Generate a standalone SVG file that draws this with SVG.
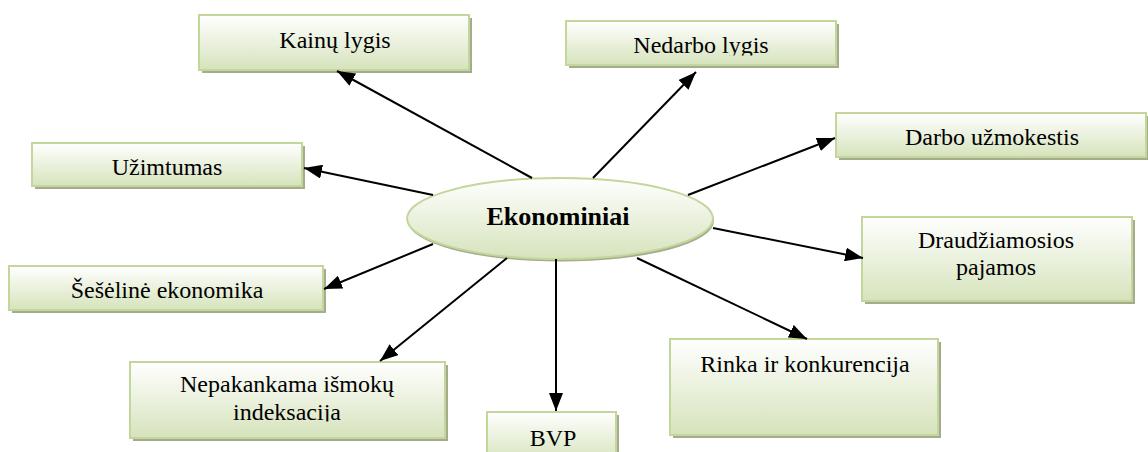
<svg xmlns="http://www.w3.org/2000/svg" width="1148" height="452" viewBox="0 0 1148 452">
<defs>
<linearGradient id="g" x1="0" y1="0" x2="0" y2="1">
<stop offset="0" stop-color="#ffffff"/>
<stop offset="1" stop-color="#d6e3bc"/>
</linearGradient>
<marker id="ah" markerUnits="userSpaceOnUse" markerWidth="18" markerHeight="14" refX="18" refY="7" orient="auto" viewBox="0 0 18 14">
<path d="M0,0 L18,7 L0,14 z" fill="#000"/>
</marker>
<clipPath id="c1"><rect x="560" y="0" width="300" height="55.5"/></clipPath>
<clipPath id="c2"><rect x="120" y="340" width="340" height="81.5"/></clipPath>
</defs>
<style>
.sh{fill:#a4ac8d}
.bx{fill:url(#g);stroke:#c3d69b;stroke-width:2}
.t{font-family:'Liberation Serif','Times New Roman',serif;font-size:24px;fill:#000;text-anchor:middle}
.tb{font-family:'Liberation Serif','Times New Roman',serif;font-size:26px;font-weight:bold;fill:#000;text-anchor:middle}
.ln{stroke:#000;stroke-width:2;fill:none;marker-end:url(#ah)}
</style>
<rect width="1148" height="452" fill="#fff"/>

<g id="kainu">
<rect class="sh" x="202" y="18" width="270" height="55"/>
<rect class="bx" x="199" y="15" width="270" height="55"/>
<text class="t" x="335" y="48">Kainų lygis</text>
</g>
<g id="nedarbo">
<rect class="sh" x="569" y="24" width="270" height="44"/>
<rect class="bx" x="566" y="21" width="270" height="44"/>
<text class="t" x="701" y="53" clip-path="url(#c1)">Nedarbo lygis</text>
</g>
<g id="darbo">
<rect class="sh" x="839" y="116" width="310" height="44"/>
<rect class="bx" x="836" y="113" width="310" height="44"/>
<text class="t" x="992" y="145">Darbo užmokestis</text>
</g>
<g id="uzimtumas">
<rect class="sh" x="35" y="146" width="270" height="43"/>
<rect class="bx" x="32" y="143" width="270" height="43"/>
<text class="t" x="167" y="175">Užimtumas</text>
</g>
<g id="seseline">
<rect class="sh" x="12" y="269" width="314" height="44"/>
<rect class="bx" x="9" y="266" width="314" height="44"/>
<text class="t" x="167" y="298">Šešėlinė ekonomika</text>
</g>
<g id="draudziamosios">
<rect class="sh" x="865" y="220" width="270" height="84"/>
<rect class="bx" x="862" y="217" width="270" height="84"/>
<text class="t" x="996" y="248">Draudžiamosios</text>
<text class="t" x="996" y="275">pajamos</text>
</g>
<g id="nepakankama">
<rect class="sh" x="133" y="365" width="315" height="76"/>
<rect class="bx" x="130" y="362" width="315" height="76"/>
<g clip-path="url(#c2)">
<text class="t" x="287" y="392">Nepakankama išmokų</text>
<text class="t" x="287" y="420">indeksacija</text>
</g>
</g>
<g id="bvp">
<rect class="sh" x="490" y="415" width="129" height="50"/>
<rect class="bx" x="487" y="412" width="129" height="50"/>
<text class="t" x="553" y="446">BVP</text>
</g>
<g id="rinka">
<rect class="sh" x="673" y="342" width="268" height="96"/>
<rect class="bx" x="670" y="339" width="268" height="96"/>
<text class="t" x="805" y="372">Rinka ir konkurencija</text>
</g>
<g id="ekonominiai">
<ellipse cx="561" cy="221" rx="153" ry="40.5" fill="#a4ac8d"/>
<ellipse cx="560" cy="218.5" rx="153" ry="40.5" fill="url(#g)" stroke="#c3d69b" stroke-width="2"/>
<text class="tb" x="558" y="225">Ekonominiai</text>
</g>

<g id="connectors">
<line class="ln" x1="532" y1="178" x2="337" y2="71"/>
<line class="ln" x1="593" y1="178" x2="696" y2="72"/>
<line class="ln" x1="433" y1="195" x2="304" y2="168"/>
<line class="ln" x1="688" y1="195" x2="835" y2="138"/>
<line class="ln" x1="713" y1="228" x2="863" y2="258"/>
<line class="ln" x1="637" y1="258" x2="807" y2="339"/>
<line class="ln" x1="556" y1="259" x2="556" y2="411"/>
<line class="ln" x1="507" y1="258" x2="380" y2="361"/>
<line class="ln" x1="433" y1="244" x2="324" y2="289"/>
</g>
</svg>
